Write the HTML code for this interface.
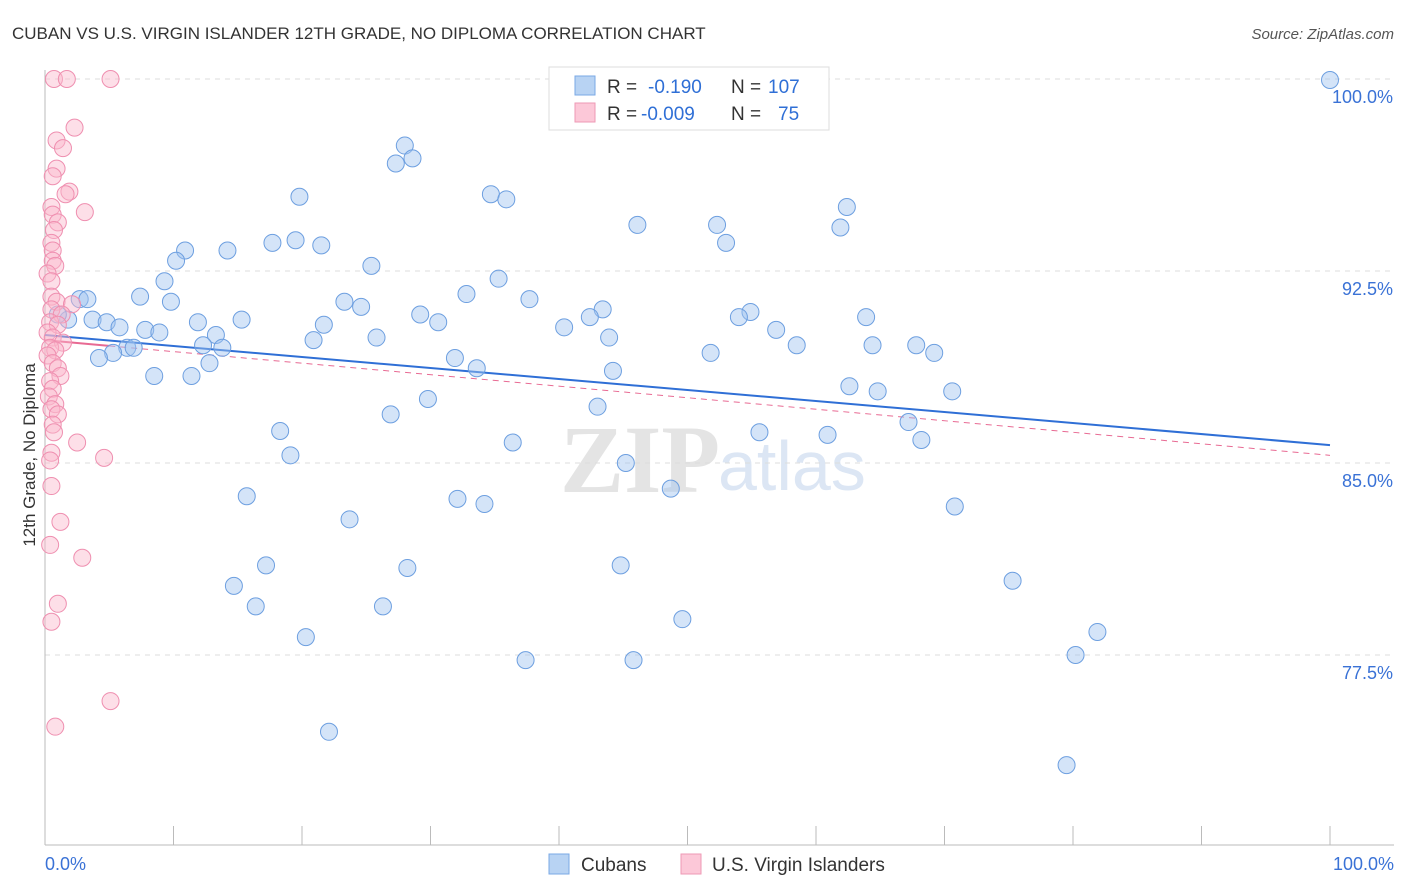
<!DOCTYPE html>
<html><head><meta charset="utf-8"><style>
body{margin:0;background:#fff;font-family:"Liberation Sans",sans-serif;}
svg{display:block}
</style></head><body>
<svg id="chart" width="1406" height="892">
<text x="12" y="39" font-size="17" fill="#333">CUBAN VS U.S. VIRGIN ISLANDER 12TH GRADE, NO DIPLOMA CORRELATION CHART</text>
<text x="1394" y="39" font-size="15" fill="#555" text-anchor="end" font-style="italic">Source: ZipAtlas.com</text>
<text x="720" y="492" font-size="96" fill="#e4e4e4" text-anchor="end" font-family="Liberation Serif,serif" font-weight="bold">ZIP</text>
<text x="718" y="490" font-size="70" fill="#dce6f4">atlas</text>
<g id="grid"></g>
<g id="axes"></g>
<g id="lines"></g>
<g id="pts"></g>
<text transform="translate(35,455) rotate(-90)" font-size="17" fill="#333" text-anchor="middle">12th Grade, No Diploma</text>
<g>
<rect x="549" y="67" width="280" height="63" fill="#fff" stroke="#ddd"/>
<rect x="575" y="76" width="20" height="19" fill="#b8d3f3" stroke="#7aa8e6"/>
<rect x="575" y="103" width="20" height="19" fill="#fcc8d8" stroke="#ee99b5"/>
<text x="607" y="93" font-size="19" fill="#333">R = </text>
<text x="648" y="93" font-size="19" fill="#2f6fd6">-0.190</text>
<text x="731" y="93" font-size="19" fill="#333">N = </text>
<text x="768" y="93" font-size="19" fill="#2f6fd6">107</text>
<text x="607" y="120" font-size="19" fill="#333">R = </text>
<text x="641" y="120" font-size="19" fill="#2f6fd6">-0.009</text>
<text x="731" y="120" font-size="19" fill="#333">N = </text>
<text x="778" y="120" font-size="19" fill="#2f6fd6">75</text>
</g>
<g>
<rect x="549" y="854" width="20" height="20" fill="#b8d3f3" stroke="#7aa8e6"/>
<text x="581" y="871" font-size="19" fill="#333">Cubans</text>
<rect x="681" y="854" width="20" height="20" fill="#fcc8d8" stroke="#ee99b5"/>
<text x="712" y="871" font-size="19" fill="#333">U.S. Virgin Islanders</text>
</g>
</svg>
<script>
const yTicks=[100,92.5,85,77.5];
const yTickLabels=["100.0%","92.5%","85.0%","77.5%"];
const xTickLabels=["0.0%","100.0%"];
const blueX=[100,28.0,28.6,27.3,19.8,34.7,35.9,62.4,46.1,52.3,61.9,19.5,17.7,21.5,53.0,10.9,14.2,10.2,25.4,35.3,9.3,32.8,7.4,2.7,3.3,9.8,23.3,37.7,24.6,43.4,54.9,3.7,1.8,1.0,4.8,29.2,42.4,63.9,54.0,15.3,11.9,30.6,5.8,21.7,40.4,7.8,8.9,56.9,13.3,25.8,43.9,20.9,12.3,58.5,64.4,67.8,6.4,6.9,13.8,69.2,51.8,5.3,4.2,31.9,12.8,33.6,44.2,8.5,11.4,62.6,64.8,70.6,29.8,43.0,26.9,67.2,18.3,55.6,60.9,68.2,36.4,19.1,45.2,48.7,15.7,32.1,34.2,70.8,23.7,17.2,28.2,44.8,75.3,14.7,16.4,26.3,49.6,20.3,81.9,37.4,45.8,80.2,22.1,79.5];
const blueY=[99.96,97.4,96.9,96.7,95.4,95.5,95.3,95.0,94.3,94.3,94.2,93.7,93.6,93.5,93.6,93.3,93.3,92.9,92.7,92.2,92.1,91.6,91.5,91.4,91.4,91.3,91.3,91.4,91.1,91.0,90.9,90.6,90.6,90.8,90.5,90.8,90.7,90.7,90.7,90.6,90.5,90.5,90.3,90.4,90.3,90.2,90.1,90.2,90.0,89.9,89.9,89.8,89.6,89.6,89.6,89.6,89.5,89.5,89.5,89.3,89.3,89.3,89.1,89.1,88.9,88.7,88.6,88.4,88.4,88.0,87.8,87.8,87.5,87.2,86.9,86.6,86.25,86.2,86.1,85.9,85.8,85.3,85.0,84.0,83.7,83.6,83.4,83.3,82.8,81.0,80.9,81.0,80.4,80.2,79.4,79.4,78.9,78.2,78.4,77.3,77.3,77.5,74.5,73.2];
const pinkX=[0.7,1.7,5.1,2.3,0.9,1.4,0.9,0.6,1.9,1.6,3.1,0.5,0.6,1.0,0.7,0.5,0.6,0.6,0.8,0.2,0.5,0.5,0.9,2.1,0.5,1.3,0.4,1.0,0.2,0.6,1.4,0.4,0.8,0.2,0.6,1.0,1.2,0.4,0.6,0.3,0.8,0.5,1.0,0.6,0.7,2.5,0.5,0.4,4.6,0.5,1.2,0.4,2.9,1.0,0.5,5.1,0.8];
const pinkY=[100,100,100,98.1,97.6,97.3,96.5,96.2,95.6,95.5,94.8,95.0,94.7,94.4,94.1,93.6,93.3,92.9,92.7,92.4,92.1,91.5,91.3,91.2,91.0,90.8,90.5,90.4,90.1,89.9,89.7,89.5,89.4,89.2,88.9,88.7,88.4,88.2,87.9,87.6,87.3,87.1,86.9,86.5,86.2,85.8,85.4,85.1,85.2,84.1,82.7,81.8,81.3,79.5,78.8,75.7,74.7];
const blueTrend=[90.0,85.7];
const pinkTrend=[89.8,85.3];
const NS="http://www.w3.org/2000/svg";
const X=v=>45+v*12.85, Y=v=>79+(100-v)*25.6;
function mk(tag,attrs,parent){const e=document.createElementNS(NS,tag);for(const k in attrs)e.setAttribute(k,attrs[k]);document.getElementById(parent).appendChild(e);return e;}
yTicks.forEach((t,i)=>{
 const g=mk('line',{x1:45,x2:1394,y1:Y(t),y2:Y(t),stroke:'#ddd','stroke-dasharray':'5,5'},'grid');
 
 
 const tx=mk('text',{x:1393,y:Y(t)+24,'font-size':18,fill:'#3a72d6','text-anchor':'end'},'axes');
 tx.textContent=yTickLabels[i];
 
 
});
let ax=mk('line',{x1:45,x2:45,y1:70,y2:845,stroke:'#bbb'},'axes');


ax=mk('line',{x1:45,x2:1394,y1:845,y2:845,stroke:'#bbb'},'axes');


for(let i=1;i<=10;i++){const t=mk('line',{x1:X(i*10),x2:X(i*10),y1:826,y2:845,stroke:'#bbb'},'axes');
 
 }
[[0,'start',45],[100,'end',1394]].forEach((d,i)=>{const t=mk('text',{x:d[2],y:870,'font-size':18,fill:'#3a72d6','text-anchor':d[1]},'axes');t.textContent=xTickLabels[i];
 
 });
blueX.forEach((x,i)=>{const c=mk('circle',{cx:X(x),cy:Y(blueY[i]),r:8.5,fill:'rgba(160,196,240,0.45)',stroke:'#6d9fe0','stroke-width':1},'pts');
 
 });
pinkX.forEach((x,i)=>{const c=mk('circle',{cx:X(x),cy:Y(pinkY[i]),r:8.5,fill:'rgba(250,185,205,0.45)',stroke:'#ef8fb0','stroke-width':1},'pts');
 
 });
let l=mk('line',{x1:X(0),y1:Y(blueTrend[0]),x2:X(100),y2:Y(blueTrend[1]),stroke:'#2f6fd6','stroke-width':2},'lines');


const py=x=>pinkTrend[0]+(pinkTrend[1]-pinkTrend[0])*x/100;
l=mk('line',{x1:X(0),y1:Y(py(0)),x2:X(5),y2:Y(py(5)),stroke:'#e86a93','stroke-width':2},'lines');


l=mk('line',{x1:X(5),y1:Y(py(5)),x2:X(100),y2:Y(py(100)),stroke:'#e86a93','stroke-width':1,'stroke-dasharray':'6,5'},'lines');


</script>
</body></html>
